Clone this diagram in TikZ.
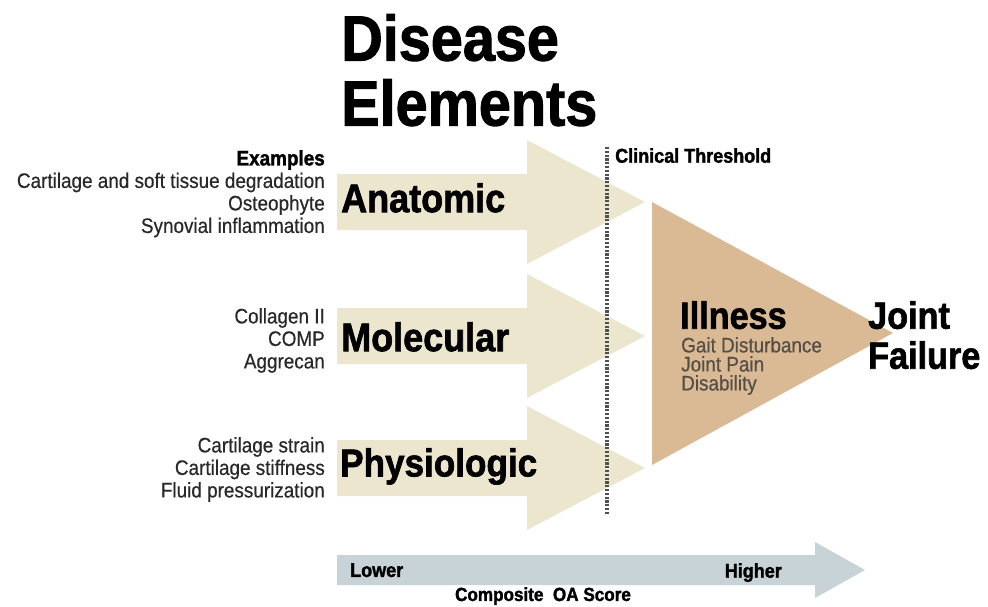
\documentclass[tikz,border=0pt]{standalone}
\usepackage{fontspec}
\setmainfont{Liberation Sans}[FakeStretch=0.9,
  UprightFeatures={FakeBold=0.5}, BoldFeatures={FakeBold=1.6}]
\usepackage{tikz}
\usetikzlibrary{positioning}
\definecolor{elembeige}{RGB}{237,230,206}
\definecolor{illtan}{RGB}{217,186,148}
\definecolor{scoregray}{RGB}{200,211,216}
\definecolor{dotgray}{RGB}{80,80,80}
\definecolor{subgray}{RGB}{85,78,70}
\definecolor{labelgray}{RGB}{40,40,40}

\begin{document}
\begin{tikzpicture}[
  x=1pt, y=-1pt,
  elem/.style={fill=elembeige},
  ill/.style={fill=illtan},
  score/.style={fill=scoregray},
  thresh/.style={draw=dotgray, line width=4pt, dash pattern=on 2.2pt off 1.6pt},
  big/.style={inner sep=0pt, font=\bfseries\fontsize{40}{40}\selectfont},
  ex/.style={inner sep=0pt, align=right, text=labelgray, font=\fontsize{21}{22.5}\selectfont},
  small/.style={inner sep=0pt, font=\bfseries\fontsize{20}{20}\selectfont}
]
  \useasboundingbox (0,0) rectangle (988,606);

  % disease element arrows
  \foreach \yc in {202,336,468}
    \fill[elem] (337,\yc-28) -- (527,\yc-28) -- (527,\yc-62) -- (645,\yc)
      -- (527,\yc+62) -- (527,\yc+28) -- (337,\yc+28) -- cycle;

  % illness triangle
  \fill[ill] (652,202) -- (893,333) -- (652,465) -- cycle;

  % score arrow
  \fill[score] (337,555) -- (815,555) -- (815,542) -- (865,570) -- (815,598)
    -- (815,585) -- (337,585) -- cycle;

  % clinical threshold
  \coordinate (thtop) at (607,147);
  \coordinate (thbot) at (607,515);
  \draw[thresh] (thtop) -- (thbot);
  \node[small, anchor=north west] (clin) at (615,148) {Clinical Threshold};

  \node[inner sep=0pt, anchor=north west, align=left,
    font=\bfseries\fontsize{64}{65}\selectfont] (title) at (341,14) {Disease\\Elements};

  \node[big, anchor=north west] (anat) at (341,183) {Anatomic};
  \node[big, anchor=north west] (molec) at (341,322) {Molecular};
  \node[big, anchor=north west, font=\bfseries\fontsize{39}{39}\selectfont] (phys) at (340,448) {Physiologic};

  \node[ex, anchor=north east] (anatex) at (325,150)
    {\textbf{\color{black}Examples}\\Cartilage and soft tissue degradation\\Osteophyte\\Synovial inflammation};
  \node[ex, anchor=north east] (molecex) at (325,308) {Collagen II\\COMP\\Aggrecan};
  \node[ex, anchor=north east] (physex) at (325,437)
    {Cartilage strain\\Cartilage stiffness\\Fluid pressurization};

  \node[big, anchor=north west, font=\bfseries\fontsize{38}{38}\selectfont] (illness) at (680,301) {Illness};
  \node[ex, align=left, text=subgray, anchor=north west,
    font=\fontsize{21}{19}\selectfont] (illnessex) at (681,337)
    {Gait Disturbance\\Joint Pain\\Disability};

  \node[big, anchor=north west, align=left, font=\bfseries\fontsize{38}{40}\selectfont] (joint) at (868,301) {Joint\\Failure};

  \node[small, anchor=north west] (lower) at (350,563) {Lower};
  \node[small, anchor=north east] (higher) at (782,563) {Higher};
  \node[small, anchor=north, font=\bfseries\fontsize{19}{19}\selectfont] (scorelbl) at (543,587) {Composite\ \ OA Score};
\end{tikzpicture}
\end{document}
